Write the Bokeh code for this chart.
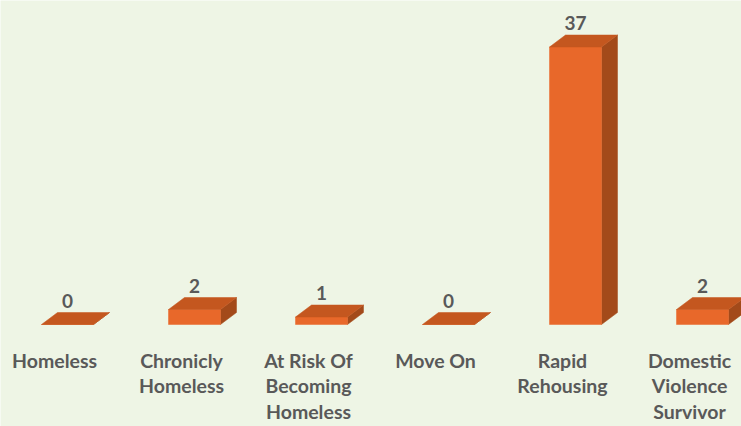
from bokeh.plotting import figure
from bokeh.models import ColumnDataSource, Range1d
from bokeh.core.properties import value
from bokeh.embed import file_html
from bokeh.resources import INLINE

categories = ["Homeless", "Chronicly\nHomeless", "At Risk Of\nBecoming\nHomeless",
              "Move On", "Rapid\nRehousing", "Domestic\nViolence\nSurvivor"]
counts = [0, 2, 1, 0, 37, 2]

BG = "#EEF5E5"
FRONT = "#E8682A"
TOP = "#C4571F"
SIDE = "#A34A1A"
TEXT = "#595959"
FONT = value("Lato")

W, H = 741, 426
px_x = 127.0           # pixels per category
px_y = 7.5             # pixels per unit
x0 = -67 / px_x
y0 = -(H - 324) / px_y

p = figure(width=W, height=H, output_backend="svg", toolbar_location=None,
           x_range=Range1d(x0, x0 + W / px_x), y_range=Range1d(y0, y0 + H / px_y),
           min_border=0, background_fill_color=BG, border_fill_color=BG)
p.axis.visible = False
p.grid.visible = False
p.outline_line_color = None

bw = 52 / px_x / 2     # half bar width
dx = 16 / px_x         # depth offset x
dy = 12 / px_y         # depth offset y

idx = list(range(len(counts)))
front_xs, front_ys, top_xs, top_ys, side_xs, side_ys = [], [], [], [], [], []
for i, v in zip(idx, counts):
    l, r = i - bw, i + bw
    front_xs.append([l, r, r, l]); front_ys.append([0, 0, v, v])
    top_xs.append([l, r, r + dx, l + dx]); top_ys.append([v, v, v + dy, v + dy])
    side_xs.append([r, r + dx, r + dx, r]); side_ys.append([0, dy, v + dy, v])

p.patches(side_xs, side_ys, fill_color=SIDE, line_color=SIDE, line_width=0.5)
p.patches(front_xs, front_ys, fill_color=FRONT, line_color=FRONT, line_width=0.5)
p.patches(top_xs, top_ys, fill_color=TOP, line_color=TOP, line_width=0.5)

vsrc = ColumnDataSource(dict(x=idx, y=[c + dy for c in counts], t=[str(c) for c in counts]))
p.text(x="x", y="y", text="t", source=vsrc, text_font=FONT, text_font_style="bold",
       text_font_size="19px", text_color=TEXT, text_align="center",
       text_baseline="alphabetic", y_offset=-12)

csrc = ColumnDataSource(dict(x=[i - 13 / px_x for i in idx], y=[0] * len(idx), t=categories))
p.text(x="x", y="y", text="t", source=csrc, text_font=FONT, text_font_style="bold",
       text_font_size="19.5px", text_color=TEXT, text_align="center",
       text_baseline="top", text_line_height=1.12, y_offset=24)

open("out.html", "w").write(file_html(p, INLINE))
